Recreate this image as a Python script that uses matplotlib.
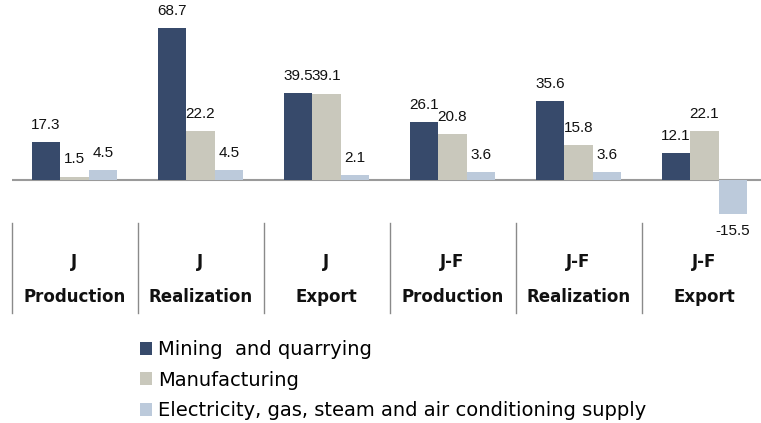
import matplotlib
matplotlib.use("Agg")
import matplotlib.pyplot as plt
import numpy as np
from matplotlib.patches import Patch

periods = ["J", "J", "J", "J-F", "J-F", "J-F"]
measures = ["Production", "Realization", "Export", "Production", "Realization", "Export"]
series_names = ["Mining  and quarrying", "Manufacturing",
                "Electricity, gas, steam and air conditioning supply"]
mining = [17.3, 68.7, 39.5, 26.1, 35.6, 12.1]
manufacturing = [1.5, 22.2, 39.1, 20.8, 15.8, 22.1]
electricity = [4.5, 4.5, 2.1, 3.6, 3.6, -15.5]
colors = ["#374A6B", "#C9C8BC", "#BCCADB"]

W, H = 761, 423
fig = plt.figure(figsize=(W / 100, H / 100), dpi=100)
left_px = 11.5
ax = fig.add_axes([left_px / W, 0, 1 - left_px / W, 1])
ax.set_xlim(-0.5, -0.5 + (W - left_px) / 126.0)
zero_px = 180.0
ppu = 2.21
ax.set_ylim(-(H - zero_px) / ppu, zero_px / ppu)
ax.axis("off")

x = np.arange(len(periods))
bw = 0.226
series = [mining, manufacturing, electricity]
for i, (vals, c) in enumerate(zip(series, colors)):
    xs = x + (i - 1) * bw
    ax.bar(xs, vals, width=bw, color=c, edgecolor="none", zorder=2)
    for xi, v in zip(xs, vals):
        off = 9.5 if v >= 0 else -7
        ax.annotate(f"{v:.1f}", (xi, v), xytext=(0, off), textcoords="offset points",
                    ha="center", va="baseline" if v >= 0 else "top",
                    fontsize=11, family="Liberation Sans", color="#111111", zorder=3)

ax.axhline(0, color="#9A9A9A", lw=1.5, xmin=0, xmax=1, zorder=1)

tr = ax.get_xaxis_transform()
y_top = 1 - 223 / H
y_bot = 1 - 313 / H
for k in range(len(periods)):
    ax.plot([k - 0.5, k - 0.5], [y_bot, y_top], transform=tr, color="#8A8A8A",
            lw=1.0, clip_on=False)
for xi, p, m in zip(x, periods, measures):
    ax.text(xi, 1 - 262 / H, p, transform=tr, ha="center", va="center",
            fontsize=12, fontweight="bold", color="#111111")
    ax.text(xi, 1 - 297 / H, m, transform=tr, ha="center", va="center",
            fontsize=12, fontweight="bold", color="#111111")

handles = [Patch(facecolor=c, edgecolor="none") for c in colors]
fig.legend(handles, series_names, loc="upper left",
           bbox_to_anchor=(140 / W, 1 - 340 / H), frameon=False,
           fontsize=14, handlelength=0.6, handleheight=0.65, handletextpad=0.35,
           labelspacing=0.6, borderaxespad=0, borderpad=0)

fig.savefig("out.png", dpi=100)
